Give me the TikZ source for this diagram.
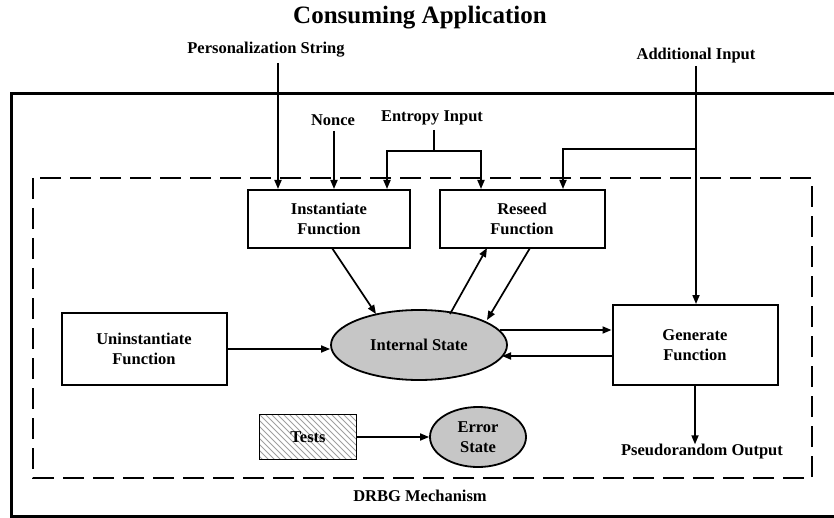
\documentclass[tikz,border=0pt]{standalone}
\usepackage{fontspec}
\setmainfont{Liberation Serif}
\usetikzlibrary{arrows.meta,shapes.geometric}
\begin{document}
\begin{tikzpicture}[x=1pt,y=-1pt,
  lbl/.style={font=\fontsize{16.5}{17}\selectfont\bfseries, inner sep=0pt},
  fbox/.style={draw, line width=2pt, font=\fontsize{16.5}{20}\selectfont\bfseries, align=center, inner sep=0pt},
  gell/.style={draw, line width=1.8pt, ellipse, fill=gray!45, font=\fontsize{16.5}{20}\selectfont\bfseries, align=center, inner sep=0pt},
  arr/.style={line width=1.7pt, -{Triangle[length=9pt,width=7pt]}},
  ln/.style={line width=1.7pt},
  hatch/.style={path picture={
      \foreach \k in {-60,-54,...,110}{
        \draw[gray!75, line width=0.8pt]
          ([xshift=\k pt]path picture bounding box.north west) --
          ++(60pt,-60pt);
      }}}]
\useasboundingbox (0,0) rectangle (834,518);
% outer and dashed frames
\draw[line width=3pt] (840,516) -- (11,516) -- (11,94) -- (840,94);
\draw[line width=2.5pt, dash pattern=on 21pt off 9pt] (33,178) rectangle (812,478);
% texts
\node[lbl, font=\fontsize{25}{26}\selectfont\bfseries] (title) at (420,18) {Consuming Application};
\node[lbl] (pers) at (266,50) {Personalization String};
\node[lbl] (addin) at (696,56) {Additional Input};
\node[lbl] (nonce) at (333,120) {Nonce};
\node[lbl] (entropy) at (432,118) {Entropy Input};
\node[lbl] (pro) at (702,452) {Pseudorandom Output};
\node[lbl] (drbg) at (420,496) {DRBG Mechanism};
% boxes
\node[fbox, minimum width=162pt, minimum height=58pt] (inst) at (329,219) {Instantiate\\Function};
\node[fbox, minimum width=165pt, minimum height=58pt] (reseed) at (522,219) {Reseed\\Function};
\node[fbox, minimum width=165pt, minimum height=72pt] (unin) at (144,349) {Uninstantiate\\Function};
\node[fbox, minimum width=165pt, minimum height=80pt] (gen) at (695,345) {Generate\\Function};
\node[fbox, minimum width=97pt, minimum height=45pt, line width=1.8pt, hatch] (tests) at (308,437) {Tests};
\node[gell, minimum width=176pt, minimum height=70pt] (istate) at (419,345) {Internal State};
\node[gell, minimum width=96pt, minimum height=60pt] (err) at (478,437) {Error\\State};
% coordinates
\coordinate (pt) at (278,63);
\coordinate (nt) at (334,131);
\coordinate (et) at (434,130);
\coordinate (ej) at (434,151);
\coordinate (el) at (387,151);
\coordinate (er) at (481,151);
\coordinate (at) at (696,66);
\coordinate (aj) at (696,149);
\coordinate (ar) at (563,149);
% inputs
\draw[arr] (pt) -- (pt |- inst.north);
\draw[arr] (nt) -- (nt |- inst.north);
\draw[ln] (et) -- (ej);
\draw[arr] (ej) -- (el) -- (el |- inst.north);
\draw[arr] (ej) -- (er) -- (er |- reseed.north);
\draw[arr] (at) -- (at |- gen.north);
\draw[arr] (aj) -- (ar) -- (ar |- reseed.north);
% flows
\draw[arr] (unin.east) -- (istate.west |- unin.east);
\draw[arr] (332,248) -- (376,314);
\draw[arr] (450,314) -- (487,248);
\draw[arr] (530,248) -- (487,320);
\draw[arr] (500,330) -- (gen.west |- 0,330);
\draw[arr] (gen.west |- 0,356) -- (502,356);
\draw[arr] (gen.south) -- (pro.north -| gen.south);
\draw[arr] (tests.east) -- (err.west);
\end{tikzpicture}
\end{document}
